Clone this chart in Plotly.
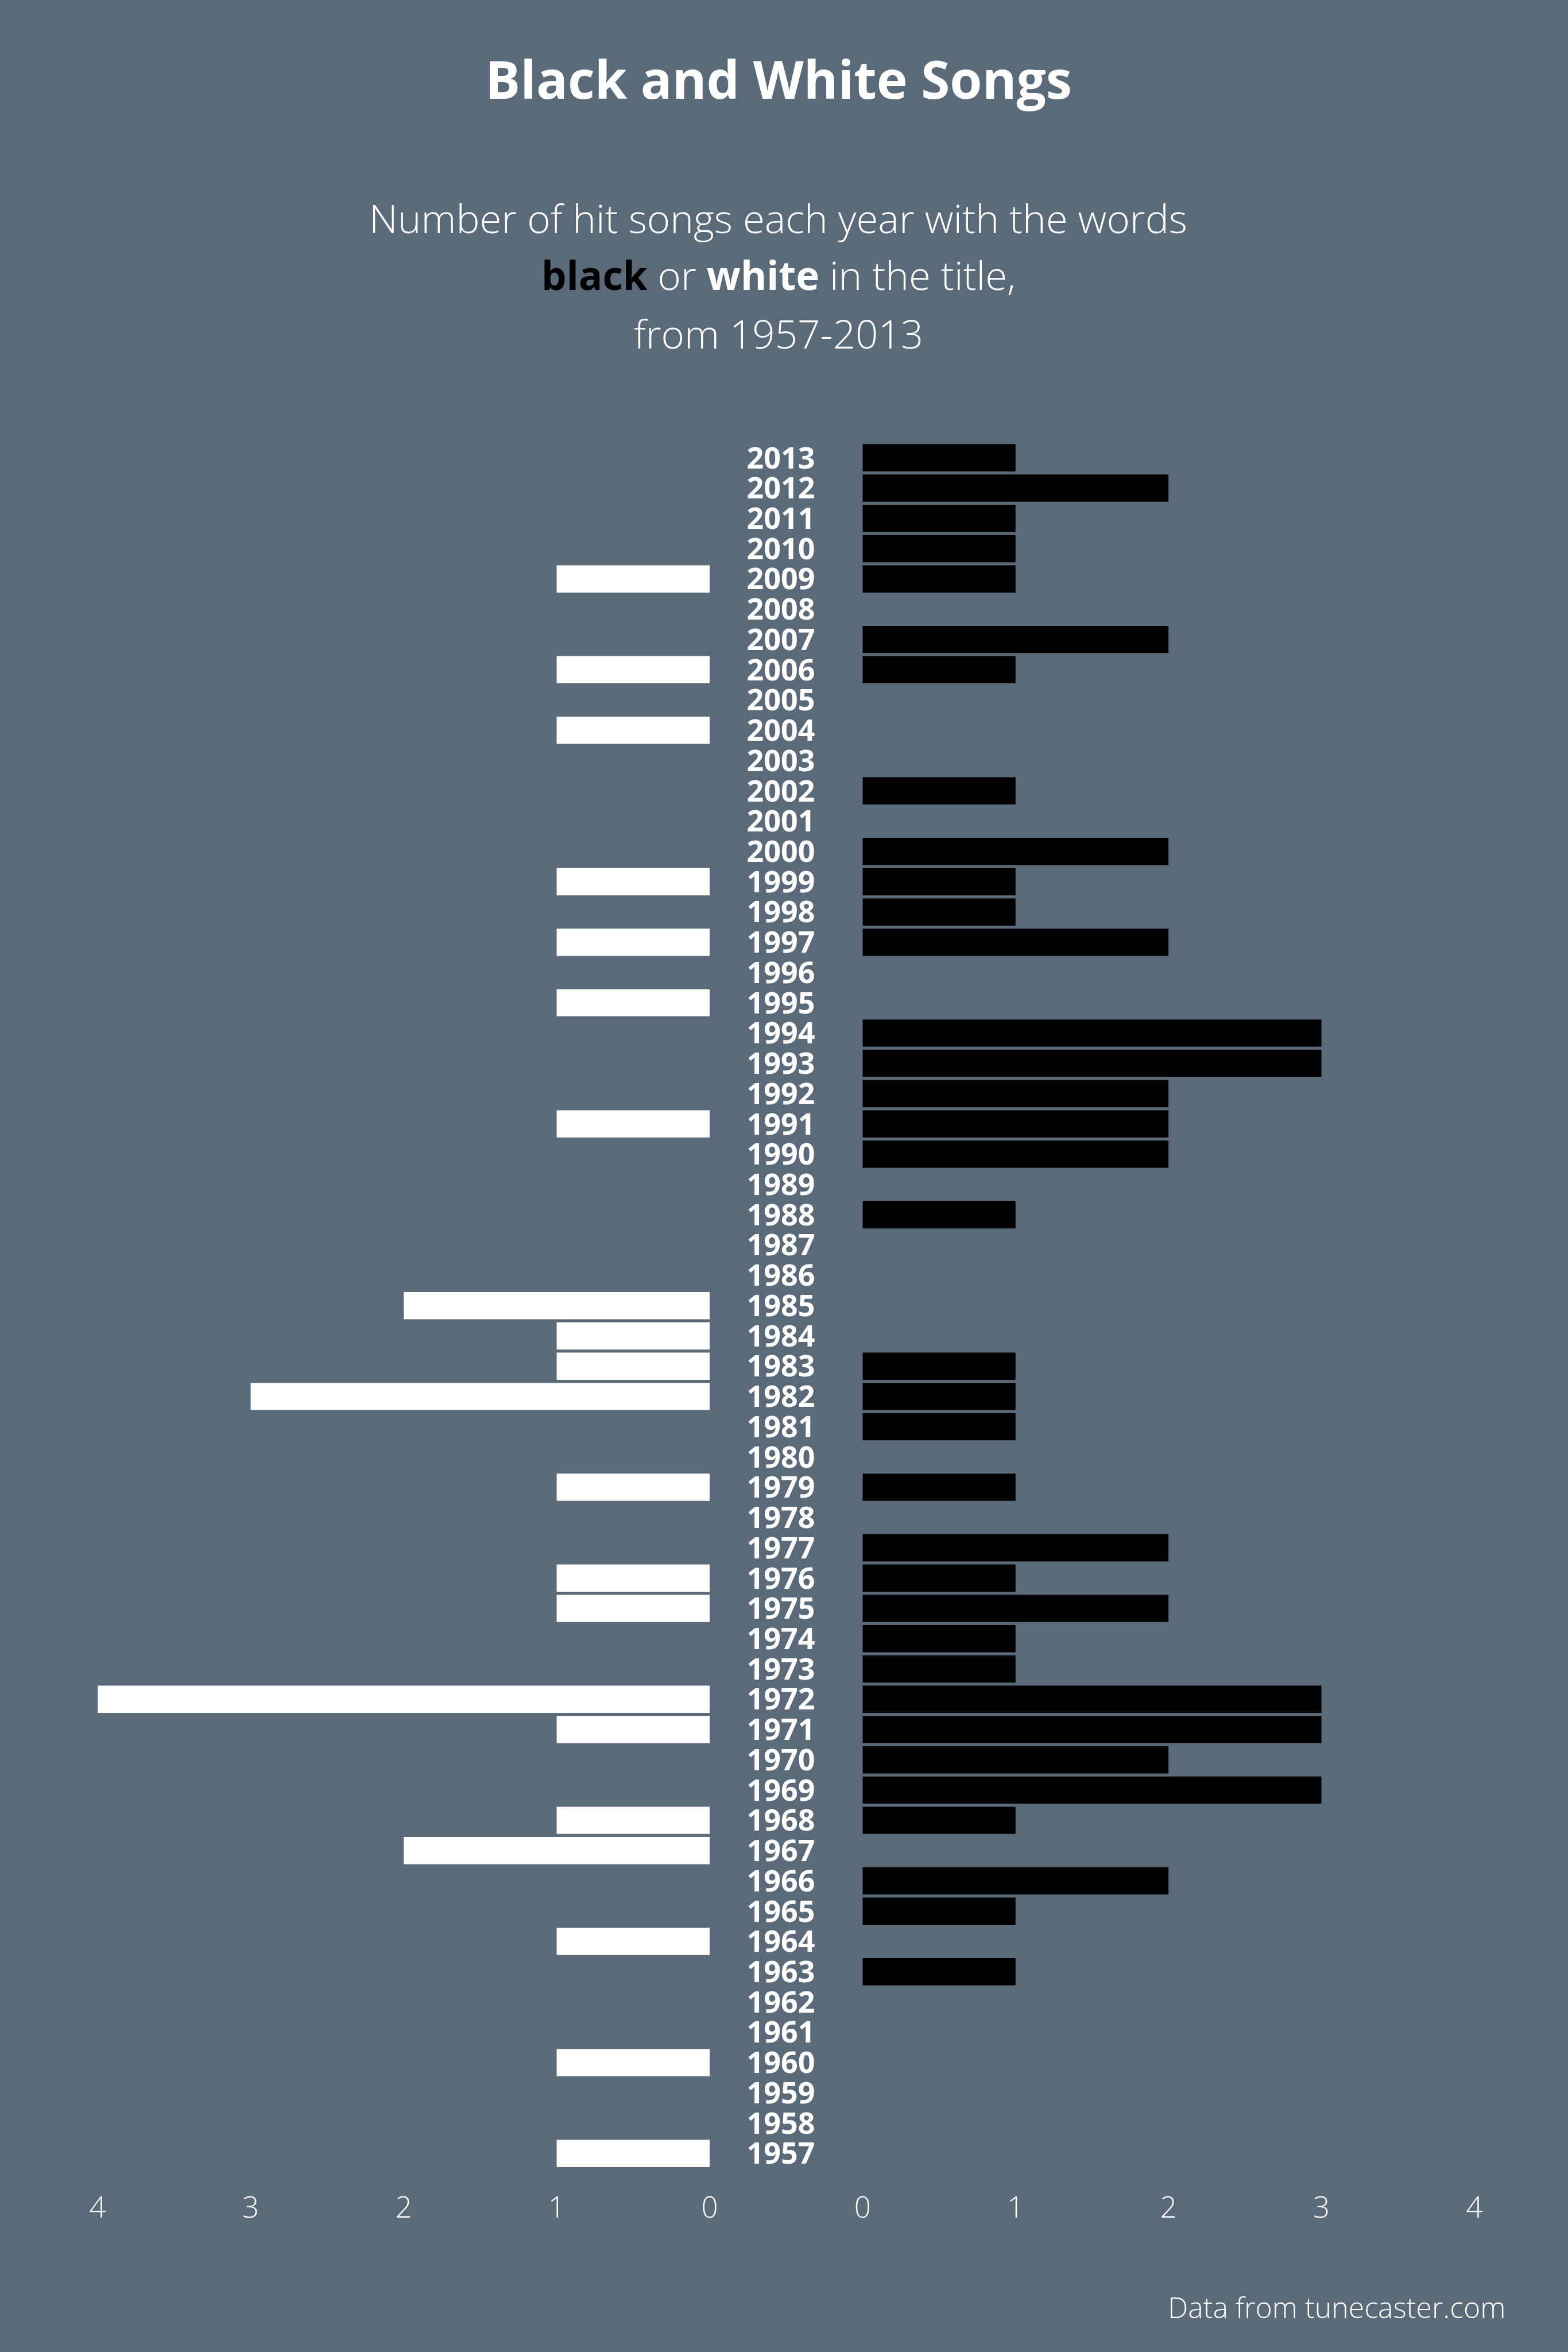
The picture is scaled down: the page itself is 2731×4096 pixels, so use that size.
import plotly.graph_objects as go

years = list(range(2013, 1956, -1))
black_counts = [1, 2, 1, 1, 1, 0, 2, 1, 0, 0, 0, 1, 0, 2, 1, 1, 2, 0, 0, 3,
                3, 2, 2, 2, 0, 1, 0, 0, 0, 0, 1, 1, 1, 0, 1, 0, 2, 1, 2, 1,
                1, 3, 3, 2, 3, 1, 0, 2, 1, 0, 1, 0, 0, 0, 0, 0, 0]
white_counts = [0, 0, 0, 0, 1, 0, 0, 1, 0, 1, 0, 0, 0, 0, 1, 0, 1, 0, 1, 0,
                0, 0, 1, 0, 0, 0, 0, 0, 2, 1, 1, 3, 0, 0, 1, 0, 0, 1, 1, 0,
                0, 4, 1, 0, 0, 1, 2, 0, 0, 1, 0, 0, 0, 1, 0, 0, 1]
tick_values = [0, 1, 2, 3, 4]
tick_labels = ["0", "1", "2", "3", "4"]

BG = "#5B6A78"
FONT = "Open Sans"

fig = go.Figure()

fig.add_trace(go.Bar(
    x=white_counts, y=years, orientation="h",
    marker=dict(color="#FFFFFF", line=dict(width=0)),
    xaxis="x", yaxis="y", name="white", hoverinfo="skip"))

fig.add_trace(go.Bar(
    x=black_counts, y=years, orientation="h",
    marker=dict(color="#000000", line=dict(width=0)),
    xaxis="x2", yaxis="y", name="black", hoverinfo="skip"))

fig.add_trace(go.Scatter(
    x=[0] * len(years), y=years, mode="text",
    text=[str(y) for y in years], textposition="middle center",
    textfont=dict(family=FONT, size=52, color="#FFFFFF", weight=700),
    xaxis="x3", yaxis="y2", hoverinfo="skip"))

axis_common = dict(
    showgrid=False, zeroline=False, showline=False, automargin=False,
    tickvals=tick_values, ticktext=tick_labels,
    tickfont=dict(family=FONT, size=51, color="#FFFFFF", weight=300),
    ticks="outside", ticklen=23, tickcolor="rgba(0,0,0,0)",
    fixedrange=True,
)

fig.update_layout(
    template="none",
    width=2731, height=4096,
    paper_bgcolor=BG, plot_bgcolor="rgba(0,0,0,0)",
    margin=dict(l=0, r=0, t=0, b=0, pad=0),
    showlegend=False,
    bargap=0.1,
    xaxis=dict(domain=[0.0623, 0.4526], range=[4, 0], anchor="y", **axis_common),
    xaxis2=dict(domain=[0.5501, 0.9403], range=[0, 4], anchor="y", **axis_common),
    xaxis3=dict(domain=[0.4526, 0.5501], range=[-0.931, 1.069], anchor="y2",
                visible=False, fixedrange=True, automargin=False),
    yaxis=dict(domain=[0.078, 0.8118], range=[1956.5, 2013.5],
               visible=False, fixedrange=True, automargin=False),
    yaxis2=dict(domain=[0.078, 0.8118], range=[1956.6, 2013.6],
                visible=False, fixedrange=True, automargin=False),
    annotations=[
        dict(text="<b>Black and White Songs</b>", x=0.4965, y=1 - 137 / 4096,
             xref="paper", yref="paper", xanchor="center", yanchor="middle",
             showarrow=False, font=dict(family=FONT, size=91, color="#FFFFFF")),
        dict(text="Number of hit songs each year with the words",
             x=0.4965, y=1 - 379 / 4096, xref="paper", yref="paper",
             xanchor="center", yanchor="middle", showarrow=False,
             font=dict(family=FONT, size=69, color="#FFFFFF", weight=300)),
        dict(text="<b><span style='color:#000000'>black</span></b> or <b>white</b> in the title,",
             x=0.4965, y=1 - 478 / 4096, xref="paper", yref="paper",
             xanchor="center", yanchor="middle", showarrow=False,
             font=dict(family=FONT, size=69, color="#FFFFFF", weight=300)),
        dict(text="from 1957-2013",
             x=0.4965, y=1 - 580 / 4096, xref="paper", yref="paper",
             xanchor="center", yanchor="middle", showarrow=False,
             font=dict(family=FONT, size=69, color="#FFFFFF", weight=300)),
        dict(text="Data from tunecaster.com",
             x=2625 / 2731, y=1 - 4018 / 4096, xref="paper", yref="paper",
             xanchor="right", yanchor="middle", showarrow=False,
             font=dict(family=FONT, size=50, color="#FFFFFF", weight=300)),
    ],
)

fig.write_html("out.html")
